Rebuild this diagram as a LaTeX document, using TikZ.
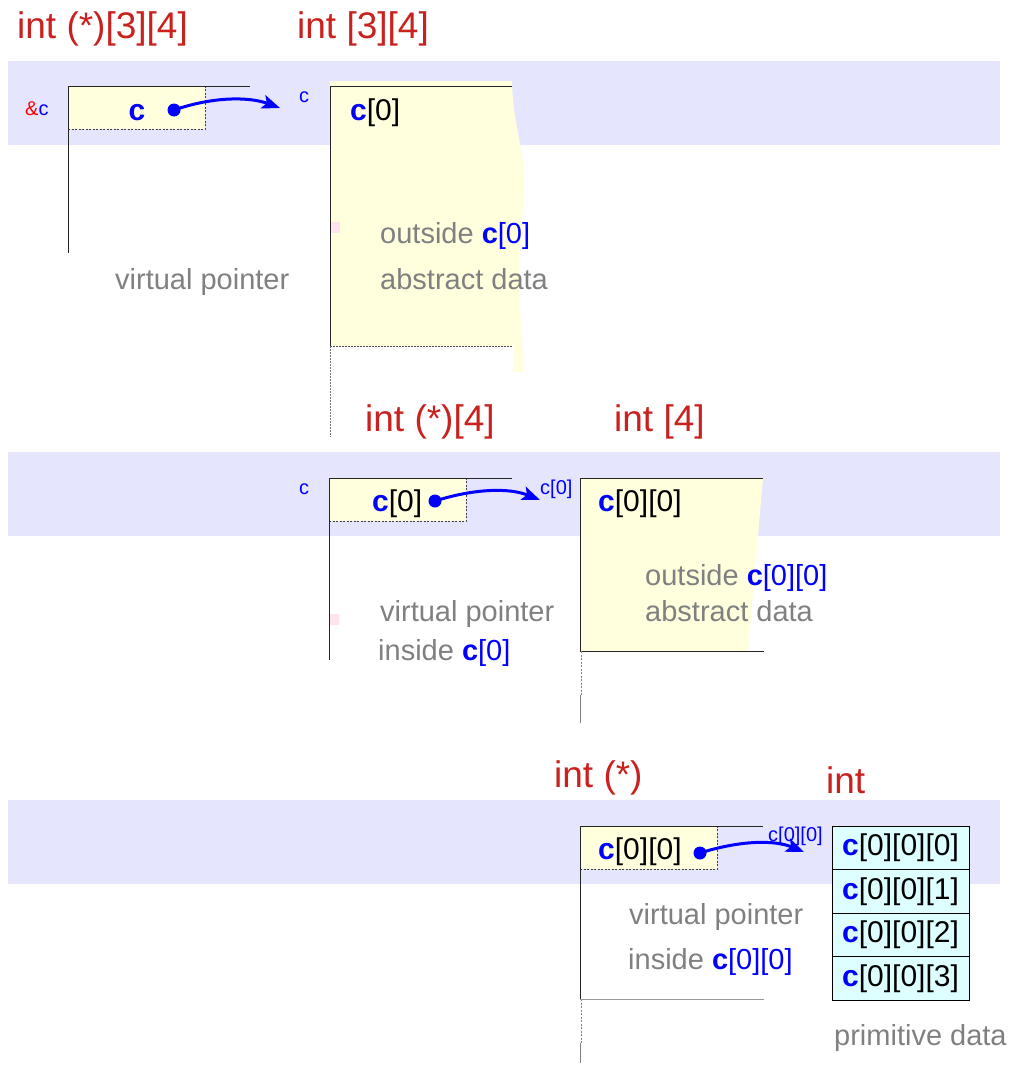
\documentclass[tikz,border=0pt]{standalone}
\usepackage{fontspec}
\setmainfont{Liberation Sans}
\usetikzlibrary{arrows.meta}
\definecolor{bandc}{RGB}{229,229,253}
\definecolor{yel}{RGB}{255,255,222}
\definecolor{cyn}{RGB}{222,255,255}
\definecolor{ttl}{RGB}{201,33,30}
\definecolor{gry}{RGB}{128,128,128}
\definecolor{blu}{RGB}{0,0,255}
\definecolor{pnk}{RGB}{255,228,240}
\definecolor{pdash}{RGB}{150,120,125}
\newcommand{\myc}{\textbf{\color{blu}c}}
\newcommand{\myb}[1]{{\color{blu}#1}}
\tikzset{
  title/.style={anchor=base west,inner sep=0,text=ttl,font=\fontsize{37}{40}\selectfont},
  txt/.style={anchor=base west,inner sep=0,font=\fontsize{30}{34}\selectfont},
  gtxt/.style={anchor=base west,inner sep=0,text=gry,font=\fontsize{29}{34}\selectfont},
  smalllbl/.style={anchor=base west,inner sep=0,text=blu,font=\fontsize{20}{24}\selectfont},
  ptrbox/.style={draw=black!75,dash pattern=on 2pt off 1.5pt,fill=yel,line width=0.8pt,
    minimum width=137pt,minimum height=43pt,inner sep=0,outer sep=0,anchor=north west},
  wire/.style={line width=1pt,black!85},
  dwire/.style={line width=1pt,black!50},
  pwire/.style={line width=1pt,pdash,dash pattern=on 2pt off 1.5pt},
  dotn/.style={circle,fill=blu,inner sep=0,minimum size=13pt},
  arr/.style={blu,line width=3pt,-{Stealth[length=18pt,width=14pt,inset=4pt]}},
  cell/.style={draw=black,fill=cyn,minimum width=137pt,minimum height=43.5pt,inner sep=0,outer sep=0,
    font=\fontsize{30}{34}\selectfont,line width=0.8pt,anchor=north west},
}
\begin{document}
\begin{tikzpicture}[x=1pt,y=-1pt]
\useasboundingbox (0,0) rectangle (1009,1065);
% bands
\fill[bandc] (8,61) rectangle (1000,145);
\fill[bandc] (8,452) rectangle (1000,536);
\fill[bandc] (8,800) rectangle (1000,884);

% ===== level 1 =====
\node[title] (t1) at (17,38) {int (*)[3][4]};
\node[title] (t2) at (297,38) {int [3][4]};
% yellow abstract region with wavy right edge
\fill[yel] (330,81) -- (512,81) .. controls (513,130) and (526,150) .. (524,190)
  .. controls (522,230) and (518,250) .. (519,280)
  .. controls (520,320) and (523,340) .. (523,372) -- (513,372) -- (513,346) -- (330,346) -- cycle;
\fill[pnk] (330,222) rectangle (340,233);
\draw[wire] (330,86) -- (512,86);
\draw[wire] (330,86) -- (330,346);
\draw[line width=0.8pt,black!70,dash pattern=on 2pt off 1pt] (330,346) -- (512,346);
\draw[line width=0.8pt,black!55,dash pattern=on 2pt off 1pt] (330,346) -- (330,437);
% pointer box
\node[ptrbox] (b1) at (68,86) {};
\draw[wire] (b1.north west) -- (250,86);
\draw[wire] (b1.north west) -- (68,253);
\node[smalllbl,text=red] (amp) at (25,115) {\&\myb{c}};
\node[txt,anchor=base] (l1) at (137,120) {\myc};
\node[dotn] (d1) at (174,110) {};
\coordinate (a1) at (280,108);
\draw[arr] (d1.center) .. controls (215,96) and (250,97) .. (a1);
\node[smalllbl] (s1) at (299,102) {c};
\node[txt] (l2) at (350,120) {\myc[0]};
\node[gtxt] (g1) at (380,243) {outside \myc\myb{[0]}};
\node[gtxt] (g2) at (380,289) {abstract data};
\node[gtxt] (g3) at (115,289) {virtual pointer};

% ===== level 2 =====
\node[title] (t3) at (365,431) {int (*)[4]};
\node[title] (t4) at (614,431) {int [4]};
\fill[yel] (580,478) -- (763,478) -- (748,651) -- (580,651) -- cycle;
\draw[wire] (580,478) -- (763,478);
\draw[wire] (580,651) -- (764,651);
\draw[wire] (580,478) -- (580,651);
\draw[pwire] (581,651) -- (581,695);
\draw[dwire] (580,695) -- (580,723);
\fill[pnk] (329,614) rectangle (339,625);
\node[ptrbox] (b2) at (329,478) {};
\draw[wire] (b2.north west) -- (512,478);
\draw[wire] (b2.north west) -- (329,660);
\node[smalllbl] (s2) at (299,494) {c};
\node[txt] (l3) at (372,511) {\myc[0]};
\node[dotn] (d2) at (435,501) {};
\coordinate (a2) at (540,500);
\draw[arr] (d2.center) .. controls (476,488) and (510,488) .. (a2);
\node[smalllbl] (s3) at (540,494) {c[0]};
\node[txt] (l4) at (598,511) {\myc[0][0]};
\node[gtxt] (g4) at (645,585) {outside \myc\myb{[0][0]}};
\node[gtxt] (g5) at (645,621) {abstract data};
\node[gtxt] (g6) at (380,621) {virtual pointer};
\node[gtxt] (g7) at (378,660) {inside \myc\myb{[0]}};

% ===== level 3 =====
\node[title] (t5) at (554,787) {int (*)};
\node[title] (t6) at (826,793) {int};
\node[ptrbox] (b3) at (580,826) {};
\draw[wire] (b3.north west) -- (763,826);
\draw[wire] (b3.north west) -- (580,999);
\draw[pwire] (581,999) -- (581,1043);
\draw[dwire] (580,1043) -- (580,1063);
\draw[line width=0.8pt,black!40] (580,999) -- (764,999);
\node[txt] (l5) at (598,859) {\myc[0][0]};
\node[dotn] (d3) at (700,853) {};
\coordinate (a3) at (804,852);
\draw[arr] (d3.center) .. controls (741,840) and (775,840) .. (a3);
\node[smalllbl] (s4) at (768,841) {c[0][0]};
\node[cell] (e0) at (832,826) {\myc[0][0][0]};
\node[cell,anchor=north] (e1) at (e0.south) {\myc[0][0][1]};
\node[cell,anchor=north] (e2) at (e1.south) {\myc[0][0][2]};
\node[cell,anchor=north] (e3) at (e2.south) {\myc[0][0][3]};
\node[gtxt] (g8) at (629,924) {virtual pointer};
\node[gtxt] (g9) at (628,969) {inside \myc\myb{[0][0]}};
\node[gtxt] (g10) at (834,1045) {primitive data};
\end{tikzpicture}
\end{document}
